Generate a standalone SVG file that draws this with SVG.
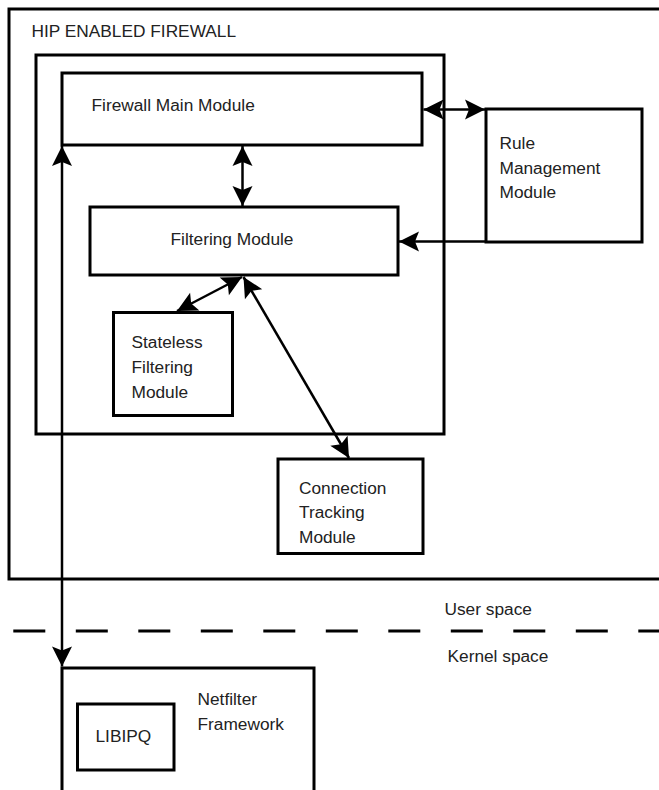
<svg xmlns="http://www.w3.org/2000/svg" width="659" height="790" viewBox="0 0 659 790">
<style>
  .box { fill: none; stroke: #000; stroke-width: 3; }
  .lbl { font-family: "Liberation Sans", Arial, sans-serif; font-size: 17.3px; fill: #222; }
  .conn { stroke: #000; stroke-width: 2.5; fill: none; }
  .dash { stroke: #000; stroke-width: 3; stroke-dasharray: 32 30.5; fill: none; }
</style>
<defs>
  <marker id="ah" markerUnits="userSpaceOnUse" markerWidth="24" markerHeight="24" viewBox="-22 -12 24 24" refX="0" refY="0" orient="auto-start-reverse">
    <path d="M0,0 L-20,-10 L-16,0 L-20,10 Z" fill="#000"/>
  </marker>
</defs>
<rect width="659" height="790" fill="#fff"/>

<g id="firewall">
  <rect class="box" x="9" y="9" width="700" height="570"/>
  <text class="lbl" x="31.5" y="37">HIP ENABLED FIREWALL</text>
</g>
<g id="container">
  <rect class="box" x="36" y="55" width="408" height="379"/>
</g>
<g id="main">
  <rect class="box" x="62" y="73" width="360" height="72"/>
  <text class="lbl" x="91.5" y="111">Firewall Main Module</text>
</g>
<g id="filtering">
  <rect class="box" x="90" y="207" width="308" height="68"/>
  <text class="lbl" x="170.5" y="245">Filtering Module</text>
</g>
<g id="stateless">
  <rect class="box" x="113.5" y="312.5" width="119" height="103"/>
  <text class="lbl" x="131.5" y="347.5">Stateless</text>
  <text class="lbl" x="131.5" y="373">Filtering</text>
  <text class="lbl" x="131.5" y="397.5">Module</text>
</g>
<g id="rule">
  <rect class="box" x="486" y="109" width="156" height="133"/>
  <text class="lbl" x="499.5" y="148.5">Rule</text>
  <text class="lbl" x="499.5" y="173.5">Management</text>
  <text class="lbl" x="499.5" y="198">Module</text>
</g>
<g id="conntrack">
  <rect class="box" x="278" y="459" width="145" height="94.5"/>
  <text class="lbl" x="299" y="493.5">Connection</text>
  <text class="lbl" x="299" y="518">Tracking</text>
  <text class="lbl" x="299" y="543">Module</text>
</g>
<g id="spaces">
  <line class="dash" x1="13.3" y1="631" x2="659" y2="631"/>
  <text class="lbl" x="444.5" y="615">User space</text>
  <text class="lbl" x="447.5" y="662">Kernel space</text>
</g>
<g id="netfilter">
  <rect class="box" x="62" y="668" width="252" height="140"/>
  <text class="lbl" x="197.5" y="704.5">Netfilter</text>
  <text class="lbl" x="197.5" y="729.5">Framework</text>
</g>
<g id="libipq">
  <rect class="box" x="77.5" y="704" width="96.5" height="66"/>
  <text class="lbl" x="95.5" y="742">LIBIPQ</text>
</g>

<g id="connectors">
  <line class="conn" x1="62" y1="146" x2="62" y2="666.5" marker-start="url(#ah)" marker-end="url(#ah)"/>
  <line class="conn" x1="242.5" y1="146" x2="242.5" y2="206" marker-start="url(#ah)" marker-end="url(#ah)"/>
  <line class="conn" x1="423.5" y1="109.5" x2="485" y2="109.5" marker-start="url(#ah)" marker-end="url(#ah)"/>
  <line class="conn" x1="486" y1="241.5" x2="399" y2="241.5" marker-end="url(#ah)"/>
  <line class="conn" x1="177" y1="311" x2="242" y2="277" marker-start="url(#ah)" marker-end="url(#ah)"/>
  <line class="conn" x1="243.5" y1="277" x2="349" y2="458" marker-start="url(#ah)" marker-end="url(#ah)"/>
</g>
</svg>
